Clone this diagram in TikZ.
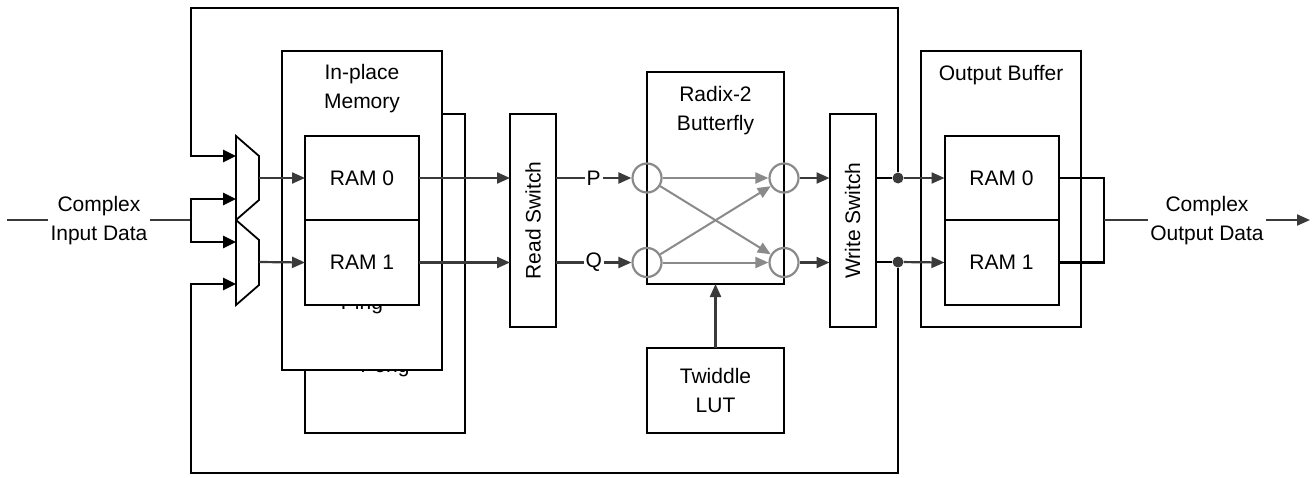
\documentclass[tikz,border=0pt]{standalone}
\usepackage{fontspec}
\setmainfont{Liberation Sans}
\usepackage{xcolor}
\usepackage{tikz}
\usetikzlibrary{positioning, arrows.meta}
\definecolor{sigc}{HTML}{3A3A3A}
\definecolor{bflyc}{HTML}{8A8A8A}

\begin{document}
\begin{tikzpicture}[x=0.5pt, y=-0.5pt, font=\fontsize{10.5}{14.5}\selectfont,
    box/.style={draw, line width=1pt, fill=white, inner sep=0pt, outer sep=0pt},
    ram/.style={box, minimum width=57pt, minimum height=42.25pt},
    mem/.style={box, minimum width=80pt, minimum height=159.5pt},
    sw/.style={box, minimum width=23pt, minimum height=106.5pt},
    sigline/.style={draw=sigc, line width=1.1pt},
    sig/.style={sigline, -{Triangle[length=6.5pt, width=5.5pt]}},
    fb/.style={draw=black, line width=1.4pt},
    fbarr/.style={fb, -{Triangle[length=6.5pt, width=6pt]}},
    pe/.style={draw=bflyc, circle, line width=1.1pt, minimum size=14.5pt, inner sep=0pt},
    bfly/.style={draw=bflyc, line width=1pt, -{Triangle[length=6.5pt, width=5.5pt]}},
    junc/.style={circle, fill=sigc, inner sep=0pt, minimum size=5.5pt},
    mux/.style={draw, line width=0.9pt, fill=white},
    lbl/.style={align=center, inner sep=1pt}]
    \useasboundingbox (0,0) rectangle (1312,477);

    \node[mem] (pong) at (385,273.5) {};
    \node[anchor=base] (pongtxt) at (385,372) {Pong};
    \node[mem] (inplace) at (362,210.5) {};
    \node[lbl] (inpllbl) at (362,89) {In-place\\Memory};
    \node[anchor=base] (pingtxt) at (362,309) {Ping};
    \node[ram] (ram0) at (362,178) {RAM 0};
    \node[ram, below=0pt of ram0] (ram1) {RAM 1};

    \draw[mux] (236,136) -- (259,156) -- (259,200) -- (236,220) -- cycle;
    \draw[mux] (236,220) -- (259,240) -- (259,285) -- (236,305) -- cycle;
    \coordinate (mux0o) at (259,178);
    \coordinate (mux1o) at (259,262);
    \coordinate (mux0a) at (236,156);
    \coordinate (mux0b) at (236,199);
    \coordinate (mux1a) at (236,242);
    \coordinate (mux1b) at (236,284);
    \draw[sig] (mux0o) -- (ram0.west);
    \draw[sig] (mux1o) -- (ram1.west);

    \node[sw] (rs) at (533,220.5) {\rotatebox{90}{Read Switch}};
    \draw[sig] (ram0.east) -- (ram0.east -| rs.west);
    \draw[sig] (ram1.east) -- (ram1.east -| rs.west);

    \node[box, minimum width=68.5pt, minimum height=106pt] (bf) at (715.5,178) {};
    \node[lbl] (bflbl) at (715.5,111) {Radix-2\\Butterfly};
    \node[pe] (p0) at (bf.west |- ram0.east) {};
    \node[pe] (p1) at (bf.west |- ram1.east) {};
    \node[pe] (s0) at (bf.east |- ram0.east) {};
    \node[pe] (s1) at (bf.east |- ram1.east) {};
    \draw[bfly] (p0) -- (s0);
    \draw[bfly] (p0) -- (s1);
    \draw[bfly] (p1) -- (s0);
    \draw[bfly] (p1) -- (s1);
    \draw[sig] (rs.east |- p0) -- node[fill=white, inner sep=1pt] (plbl) {P} (p0);
    \draw[sig] (rs.east |- p1) -- node[fill=white, inner sep=1pt] (qlbl) {Q} (p1);

    \node[box, minimum width=68.5pt, minimum height=42.5pt, align=center] (lut) at (715.5,390.5) {Twiddle\\LUT};
    \draw[sig] (lut) -- (bf);

    \node[sw] (ws) at (852.5,220.5) {\rotatebox{90}{Write Switch}};
    \draw[sig] (s0) -- (s0 -| ws.west);
    \draw[sig] (s1) -- (s1 -| ws.west);

    \node[box, minimum width=80pt, minimum height=138pt] (ob) at (1001,189) {};
    \node (oblbl) at (1001,75) {Output Buffer};
    \node[ram] (oram0) at (1001.5,178) {RAM 0};
    \node[ram, below=0pt of oram0] (oram1) {RAM 1};

    \node[junc] (j0) at (898,178) {};
    \node[junc] (j1) at (898,262) {};
    \draw[fb] (ws.east |- j0) -- (j0);
    \draw[fb] (ws.east |- j1) -- (j1);
    \draw[sig] (j0) -- (oram0.west);
    \draw[sig] (j1) -- (oram1.west);

    \coordinate (fbtop) at (191,8);
    \coordinate (fbbot) at (191,473);
    \draw[fbarr] (j0) |- (fbtop) |- (mux0a);
    \draw[fbarr] (j1) |- (fbbot) |- (mux1b);

    \node[lbl] (cin) at (99,221) {Complex\\Input Data};
    \coordinate (inl) at (7,220);
    \coordinate (split) at (191,220);
    \draw[sigline] (inl) -- (cin.west |- inl);
    \draw[sigline] (cin.east |- split) -- (split);
    \draw[fbarr] (split) |- (mux0b);
    \draw[fbarr] (split) |- (mux1a);

    \coordinate (oj) at (1104,220);
    \draw[fb] (oram0.east) -| (oj) |- (oram1.east);
    \node[lbl] (cout) at (1207,221) {Complex\\Output Data};
    \coordinate (outr) at (1310,220);
    \draw[sigline] (oj) -- (cout.west |- oj);
    \draw[sig] (cout.east |- outr) -- (outr);
\end{tikzpicture}
\end{document}
